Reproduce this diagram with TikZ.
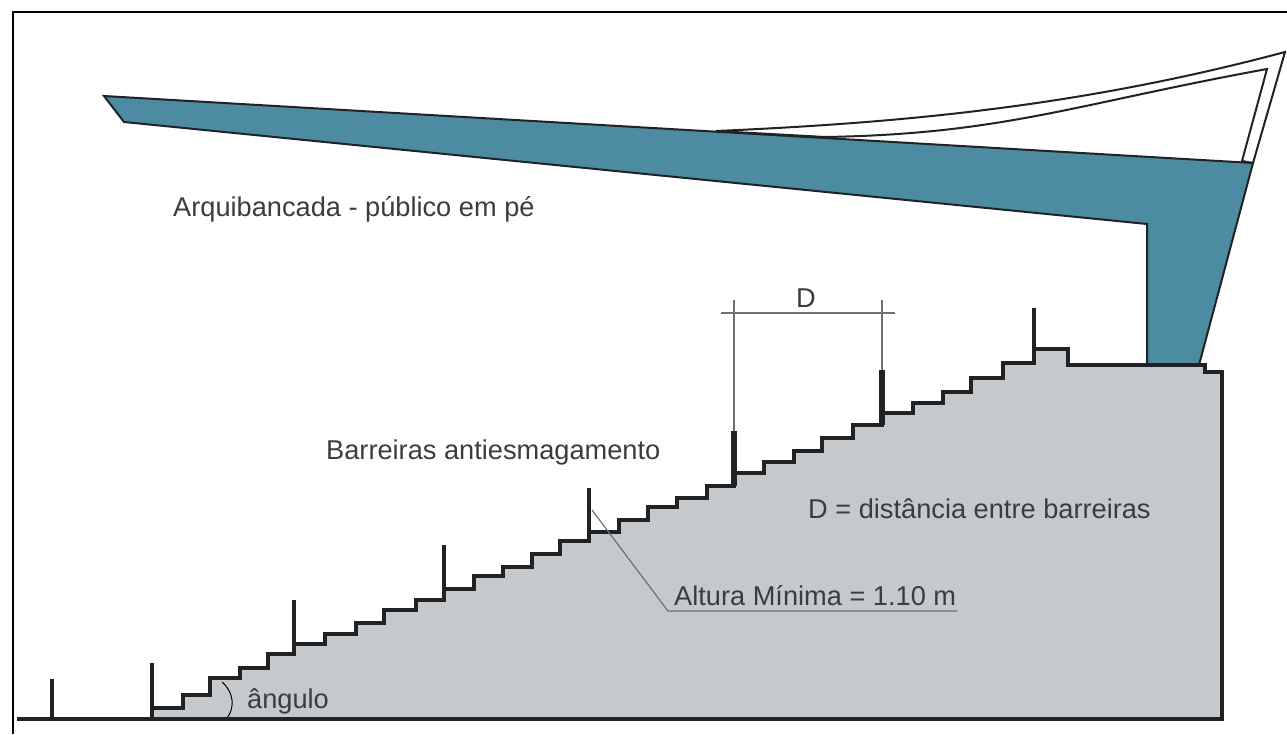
\documentclass[tikz,border=0pt]{standalone}
\usepackage{fontspec}
\setmainfont{Liberation Sans}
\definecolor{teal1}{HTML}{4D8BA2}
\definecolor{gray1}{HTML}{C6C9CB}
\definecolor{ink}{HTML}{202224}
\definecolor{txt}{HTML}{3A3D40}
\definecolor{thin}{HTML}{6E7072}
\tikzset{
  lbl/.style={anchor=base west,inner sep=0pt,text=txt,font=\fontsize{27.2}{30}\selectfont},
  stair/.style={draw=ink,line width=3.2pt,line join=miter},
  barrier/.style={draw=ink,line width=4.2pt},
  hbarrier/.style={draw=ink,line width=5.5pt},
  thinline/.style={draw=thin,line width=1.2pt},
  roofline/.style={draw=ink,line width=2pt,line join=miter},
}
\begin{document}
\begin{tikzpicture}[x=1pt,y=-1pt]
\useasboundingbox (0,0) rectangle (1287,734);
\fill[white] (0,0) rectangle (1287,734);
% frame
\draw[black,line width=2pt] (12.5,734) -- (12.5,12) -- (1287,12);
% stand
\fill[gray1] (152,719) -- (152,708) -- (183,708) -- (183,695) -- (210,695) -- (210,678) -- (240,678) -- (240,668) -- (268,668) -- (268,654) -- (294,654) -- (294,644) -- (325,644) -- (325,634) -- (356,634) -- (356,623) -- (384,623) -- (384,610) -- (416,610) -- (416,600) -- (444,600) -- (444,589) -- (474,589) -- (474,576) -- (503,576) -- (503,567) -- (532,567) -- (532,554) -- (560,554) -- (560,541) -- (589,541) -- (589,532) -- (619,532) -- (619,520) -- (648,520) -- (648,507) -- (677,507) -- (677,498) -- (707,498) -- (707,486) -- (734,486) -- (734,473) -- (764,473) -- (764,462) -- (794,462) -- (794,451) -- (822,451) -- (822,438) -- (853,438) -- (853,425) -- (882,425) -- (882,413) -- (913,413) -- (913,403) -- (943,403) -- (943,392) -- (971,392) -- (971,378) -- (1003,378) -- (1003,363) -- (1034,363) -- (1034,349) -- (1068,349) -- (1068,365) -- (1205,365) -- (1205,372) -- (1222,372) -- (1222,719) -- cycle;
% roof
\coordinate (tipO) at (1285,52);
\coordinate (tipI) at (1267,69);
\coordinate (footO) at (1253,163);
\coordinate (footI) at (1242,161);
\coordinate (startO) at (716,131);
\coordinate (startI) at (825,137);
\draw[roofline,fill=white] (startO) .. controls (900,123) and (1080,106.7) .. (tipO) -- (footO) -- (footI) -- (tipI) .. controls (1075,104) and (1004,134) .. (startI) -- cycle;
\draw[roofline,fill=teal1] (104,96) -- (124,122) -- (1147,224) -- (1147,365) -- (1199,365) -- (footO) -- cycle;
% stand outline
\draw[stair] (17,719) -- (1222,719) -- (1222,372) -- (1205,372) -- (1205,365) -- (1068,365) -- (1068,349) -- (1034,349) -- (1034,363) -- (1003,363) -- (1003,378) -- (971,378) -- (971,392) -- (943,392) -- (943,403) -- (913,403) -- (913,413) -- (882,413) -- (882,425) -- (853,425) -- (853,438) -- (822,438) -- (822,451) -- (794,451) -- (794,462) -- (764,462) -- (764,473) -- (734,473) -- (734,486) -- (707,486) -- (707,498) -- (677,498) -- (677,507) -- (648,507) -- (648,520) -- (619,520) -- (619,532) -- (589,532) -- (589,541) -- (560,541) -- (560,554) -- (532,554) -- (532,567) -- (503,567) -- (503,576) -- (474,576) -- (474,589) -- (444,589) -- (444,600) -- (416,600) -- (416,610) -- (384,610) -- (384,623) -- (356,623) -- (356,634) -- (325,634) -- (325,644) -- (294,644) -- (294,654) -- (268,654) -- (268,668) -- (240,668) -- (240,678) -- (210,678) -- (210,695) -- (183,695) -- (183,708) -- (152,708);
% barriers
\draw[barrier] (52,719) -- (52,679);
\draw[barrier] (152,719) -- (152,663);
\draw[barrier] (294,654) -- (294,600);
\draw[barrier] (444,600) -- (444,545);
\draw[barrier] (589,541) -- (589,488);
\draw[hbarrier] (734,486) -- (734,431);
\draw[hbarrier] (882,425) -- (882,370);
\draw[barrier] (1034,363) -- (1034,308);
% dimension
\coordinate (dimL) at (721,313);
\coordinate (dimR) at (895,313);
\draw[thinline] (dimL) -- (dimR);
\draw[thinline] (734,300) -- (734,431);
\draw[thinline] (882,300) -- (882,370);
% leader
\coordinate (leadA) at (592,510);
\coordinate (leadB) at (668,611);
\coordinate (leadC) at (957,611);
\draw[thinline,line join=miter] (leadA) -- (leadB) -- (leadC);
% angle
\draw[thin,line width=1pt] (222,682) .. controls (234,692) and (235,708) .. (227,718);
% labels
\node[lbl] (arq) at (173,216) {Arquibancada - público em pé};
\node[lbl] (bar) at (326,459) {Barreiras antiesmagamento};
\node[lbl] (dist) at (808,518) {D = distância entre barreiras};
\node[lbl] (alt) at (674,605) {Altura Mínima = 1.10 m};
\node[lbl] (dd) at (796,307) {D};
\node[lbl] (ang) at (247,708) {ângulo};
\end{tikzpicture}
\end{document}
